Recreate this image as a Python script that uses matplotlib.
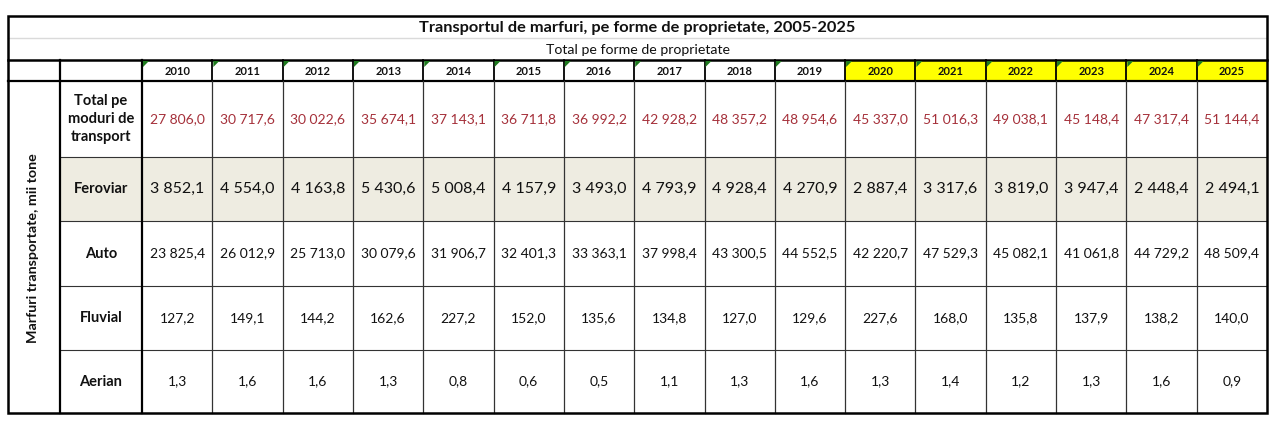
"""
Freight transport table (mii tone), redrawn as a matplotlib figure.
"""

import matplotlib
matplotlib.use("Agg")
import matplotlib.pyplot as plt
import matplotlib.patches as mpatches

plt.rcParams["font.family"] = ["Lato", "DejaVu Sans"]

TITLE    = "Transportul de marfuri, pe forme de proprietate, 2005-2025"
SUBTITLE = "Total pe forme de proprietate"
Y_LABEL  = "Marfuri transportate, mii tone"

years = [2010, 2011, 2012, 2013, 2014, 2015, 2016, 2017,
         2018, 2019, 2020, 2021, 2022, 2023, 2024, 2025]
highlight_from = 2020

row_labels = ["Total pe\nmoduri de\ntransport", "Feroviar", "Auto", "Fluvial", "Aerian"]

total    = [27806.0, 30717.6, 30022.6, 35674.1, 37143.1, 36711.8, 36992.2, 42928.2,
            48357.2, 48954.6, 45337.0, 51016.3, 49038.1, 45148.4, 47317.4, 51144.4]
feroviar = [3852.1, 4554.0, 4163.8, 5430.6, 5008.4, 4157.9, 3493.0, 4793.9,
            4928.4, 4270.9, 2887.4, 3317.6, 3819.0, 3947.4, 2448.4, 2494.1]
auto     = [23825.4, 26012.9, 25713.0, 30079.6, 31906.7, 32401.3, 33363.1, 37998.4,
            43300.5, 44552.5, 42220.7, 47529.3, 45082.1, 41061.8, 44729.2, 48509.4]
fluvial  = [127.2, 149.1, 144.2, 162.6, 227.2, 152.0, 135.6, 134.8,
            127.0, 129.6, 227.6, 168.0, 135.8, 137.9, 138.2, 140.0]
aerian   = [1.3, 1.6, 1.6, 1.3, 0.8, 0.6, 0.5, 1.1,
            1.3, 1.6, 1.3, 1.4, 1.2, 1.3, 1.6, 0.9]

series = [total, feroviar, auto, fluvial, aerian]

# layout, in pixels of the 1280x423 canvas
W, H = 1280, 423
X0, X1 = 8, 1267           # outer box
XL, XY = 60, 142           # left column edge, first year column edge
Y_TOP, Y_SUB, Y_HEAD, Y_DATA = 16, 38, 60, 81
ROW_EDGES = [81, 157, 221, 286, 350, 413]

RED   = "#A5303A"
BEIGE = "#EEECE1"
YELL  = "#FFFF00"
GREEN = "#1F7A1F"
INK   = "#111111"

ROW_STYLE = [  # fontsize, color, background
    (10, RED, "white"),
    (11.5, INK, BEIGE),
    (10, INK, "white"),
    (10, INK, "white"),
    (10, INK, "white"),
]


def fmt(v):
    s = f"{v:,.1f}"
    return s.replace(",", " ").replace(".", ",")


def main():
    fig = plt.figure(figsize=(W / 100, H / 100), dpi=100)
    ax = fig.add_axes([0, 0, 1, 1])
    ax.set_xlim(0, W)
    ax.set_ylim(H, 0)
    ax.axis("off")

    col_w = (X1 - XY) / len(years)
    col_x = [XY + i * col_w for i in range(len(years) + 1)]

    # row backgrounds
    for r, (_, _, bg) in enumerate(ROW_STYLE):
        if bg != "white":
            ax.add_patch(mpatches.Rectangle((XL, ROW_EDGES[r]), X1 - XL,
                                            ROW_EDGES[r + 1] - ROW_EDGES[r],
                                            facecolor=bg, edgecolor="none", zorder=0))

    # year header cells
    for i, yr in enumerate(years):
        x = col_x[i]
        if yr >= highlight_from:
            ax.add_patch(mpatches.Rectangle((x, Y_HEAD), col_w, Y_DATA - Y_HEAD,
                                            facecolor=YELL, edgecolor="none", zorder=0))
        ax.add_patch(mpatches.Polygon([(x + 1, Y_HEAD + 1), (x + 7, Y_HEAD + 1), (x + 1, Y_HEAD + 7)],
                                      closed=True, facecolor=GREEN, edgecolor="none", zorder=3))
        ax.text(x + col_w / 2, (Y_HEAD + Y_DATA) / 2 + 1, str(yr), ha="center", va="center",
                fontsize=8, fontweight="bold", color=INK)

    # values
    for r, vals in enumerate(series):
        size, color, _ = ROW_STYLE[r]
        yc = (ROW_EDGES[r] + ROW_EDGES[r + 1]) / 2
        for i, v in enumerate(vals):
            ax.text(col_x[i] + col_w / 2, yc, fmt(v), ha="center", va="center",
                    fontsize=size, color=color)
        ax.text((XL + XY) / 2, yc, row_labels[r], ha="center", va="center",
                fontsize=10.5, fontweight="bold", color=INK, linespacing=1.35)

    # titles
    ax.text((X0 + X1) / 2, (Y_TOP + Y_SUB) / 2 + 1, TITLE, ha="center", va="center",
            fontsize=11.8, fontweight="bold", color=INK)
    ax.text((X0 + X1) / 2, (Y_SUB + Y_HEAD) / 2 + 1, SUBTITLE, ha="center", va="center",
            fontsize=10.2, color=INK)
    ax.text((X0 + XL) / 2 - 1, (Y_DATA + ROW_EDGES[-1]) / 2 + 1, Y_LABEL, ha="center", va="center",
            rotation=90, fontsize=10.3, fontweight="bold", color=INK)

    # grid lines
    ax.plot([X0, X1], [Y_SUB, Y_SUB], color="#DADADA", lw=1.0)
    ax.plot([X0, X1], [Y_HEAD, Y_HEAD], color="black", lw=1.8)
    ax.plot([X0, X1], [Y_DATA, Y_DATA], color="black", lw=1.6)
    for y in ROW_EDGES[1:-1]:
        ax.plot([XL, X1], [y, y], color="#333333", lw=0.8)
    ax.plot([XL, XL], [Y_HEAD, ROW_EDGES[-1]], color="black", lw=1.6)
    ax.plot([XY, XY], [Y_HEAD, ROW_EDGES[-1]], color="black", lw=1.6)
    for x in col_x[1:-1]:
        ax.plot([x, x], [Y_HEAD, Y_DATA], color="black", lw=1.3)
        ax.plot([x, x], [Y_DATA, ROW_EDGES[-1]], color="#333333", lw=0.9)

    ax.add_patch(mpatches.Rectangle((X0, Y_TOP), X1 - X0, ROW_EDGES[-1] - Y_TOP,
                                    facecolor="none", edgecolor="black", lw=1.8, zorder=4))

    fig.savefig("out.png", dpi=100, facecolor="white")
    plt.close(fig)


if __name__ == "__main__":
    main()
